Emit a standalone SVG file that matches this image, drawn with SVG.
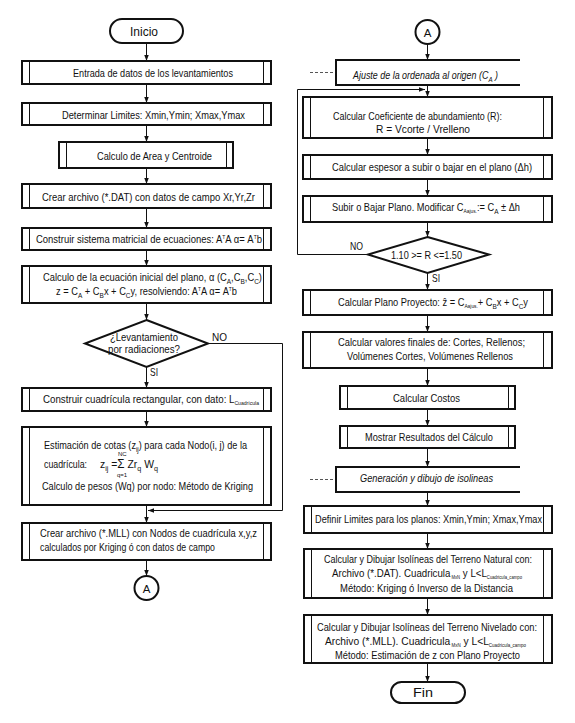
<svg xmlns="http://www.w3.org/2000/svg" width="575" height="723" viewBox="0 0 575 723">
<style>
.box{fill:#fff;stroke:#111;stroke-width:2}
.in{stroke:#111;stroke-width:1;fill:none}
.ann{fill:none;stroke:#111;stroke-width:2}
.dash{stroke:#555;stroke-width:1;stroke-dasharray:3,2;fill:none}
.c{stroke:#111;stroke-width:1;fill:none}
text{font-family:"Liberation Sans",Arial,sans-serif;font-size:11.5px;fill:#111}
.lg{font-size:13px}
.it{font-style:italic}
.sub{font-size:8px;baseline-shift:-2.5px}
.sm{font-size:6px;baseline-shift:-2px}
.tiny{font-size:5px;baseline-shift:-2px}
.sup{font-size:6px;baseline-shift:4px}
.lim{font-size:6px}
</style>
<defs>
<marker id="ah" viewBox="0 0 8 8" refX="8" refY="4" markerWidth="6" markerHeight="6" orient="auto" markerUnits="userSpaceOnUse">
<path d="M0,1 L8,4 L0,7 z" fill="#111"/>
</marker>
</defs>
<rect width="575" height="723" fill="#fff"/>

<g id="connectors">
<path class="c" marker-end="url(#ah)" d="M146.5,43 V61"/>
<path class="c" marker-end="url(#ah)" d="M146.5,84 V103"/>
<path class="c" marker-end="url(#ah)" d="M146.5,125 V142"/>
<path class="c" marker-end="url(#ah)" d="M146.5,168 V184"/>
<path class="c" marker-end="url(#ah)" d="M146.5,208 V228"/>
<path class="c" marker-end="url(#ah)" d="M146.5,250 V266"/>
<path class="c" marker-end="url(#ah)" d="M146.5,303 V320"/>
<path class="c" marker-end="url(#ah)" d="M146.5,367 V388"/>
<path class="c" marker-end="url(#ah)" d="M146.5,411 V427"/>
<path class="c" marker-end="url(#ah)" d="M146.5,505 V523"/>
<path class="c" marker-end="url(#ah)" d="M146.5,560 V576"/>
<path class="c" marker-end="url(#ah)" d="M208,343.5 H282.5 V510.5 H148"/>
<path class="c" marker-end="url(#ah)" d="M427.5,44 V60"/>
<path class="c" marker-end="url(#ah)" d="M427.5,85 V97"/>
<path class="c" marker-end="url(#ah)" d="M368,254.5 H297.5 V89.5 H425"/>
<path class="c" marker-end="url(#ah)" d="M427.5,138 V155"/>
<path class="c" marker-end="url(#ah)" d="M427.5,179 V196"/>
<path class="c" marker-end="url(#ah)" d="M427.5,222 V237"/>
<path class="c" marker-end="url(#ah)" d="M427.5,273 V290"/>
<path class="c" marker-end="url(#ah)" d="M427.5,315 V332"/>
<path class="c" marker-end="url(#ah)" d="M427.5,368 V386"/>
<path class="c" marker-end="url(#ah)" d="M427.5,409 V426"/>
<path class="c" marker-end="url(#ah)" d="M427.5,448 V467"/>
<path class="c" marker-end="url(#ah)" d="M427.5,492 V506"/>
<path class="c" marker-end="url(#ah)" d="M427.5,533 V549"/>
<path class="c" marker-end="url(#ah)" d="M427.5,598 V615"/>
<path class="c" marker-end="url(#ah)" d="M427.5,663 V682"/>
<path class="dash" d="M310,72.5 H336"/>
<path class="dash" d="M310,479.5 H336"/>
<text x="212" y="341" textLength="15" lengthAdjust="spacingAndGlyphs">NO</text>
<text x="150" y="376" textLength="8" lengthAdjust="spacingAndGlyphs">SI</text>
<text x="350" y="250" textLength="13" lengthAdjust="spacingAndGlyphs">NO</text>
<text x="432" y="282" textLength="8" lengthAdjust="spacingAndGlyphs">SI</text>
</g>

<g id="inicio">
<rect class="box" x="110" y="19" width="73" height="24" rx="12"/>
<text class="lg" x="130" y="36" textLength="28" lengthAdjust="spacingAndGlyphs">Inicio</text>
</g>

<g id="entrada">
<rect class="box" x="22" y="61" width="249" height="23"/>
<path class="in" d="M29.5,61 V84 M263.5,61 V84"/>
<text x="73" y="77" textLength="160" lengthAdjust="spacingAndGlyphs">Entrada de datos de los levantamientos</text>
</g>

<g id="limites">
<rect class="box" x="22" y="103" width="249" height="22"/>
<path class="in" d="M29.5,103 V125 M263.5,103 V125"/>
<text x="62" y="119" textLength="183" lengthAdjust="spacingAndGlyphs">Determinar Limites: Xmin,Ymin; Xmax,Ymax</text>
</g>

<g id="area">
<rect class="box" x="59" y="142" width="174" height="26"/>
<path class="in" d="M66.5,142 V168 M226.5,142 V168"/>
<text x="97" y="160" textLength="115" lengthAdjust="spacingAndGlyphs">Calculo de Area y Centroide</text>
</g>

<g id="dat">
<rect class="box" x="22" y="184" width="249" height="24"/>
<path class="in" d="M29.5,184 V208 M263.5,184 V208"/>
<text x="42" y="201" textLength="213" lengthAdjust="spacingAndGlyphs">Crear archivo (*.DAT) con datos de campo Xr,Yr,Zr</text>
</g>

<g id="sistema">
<rect class="box" x="22" y="228" width="249" height="22"/>
<path class="in" d="M29.5,228 V250 M263.5,228 V250"/>
<text x="36" y="243" textLength="226" lengthAdjust="spacingAndGlyphs">Construir sistema matricial de ecuaciones: A<tspan class="sup">T</tspan>A α= A<tspan class="sup">T</tspan>b</text>
</g>

<g id="ecuacion">
<rect class="box" x="22" y="266" width="249" height="37"/>
<path class="in" d="M29.5,266 V303 M263.5,266 V303"/>
<text x="43" y="281" textLength="219" lengthAdjust="spacingAndGlyphs">Calculo de la ecuación inicial del plano, α (C<tspan class="sub">A</tspan>,C<tspan class="sub">B</tspan>,C<tspan class="sub">C</tspan>)</text>
<text x="56" y="295" textLength="181" lengthAdjust="spacingAndGlyphs">z = C<tspan class="sub">A</tspan> + C<tspan class="sub">B</tspan>x + C<tspan class="sub">C</tspan>y, resolviendo: A<tspan class="sup">T</tspan>A α= A<tspan class="sup">T</tspan>b</text>
</g>

<g id="radiaciones">
<polygon class="box" points="146.5,320 208,343.5 146.5,367 85,343.5"/>
<text x="110" y="341" textLength="68" lengthAdjust="spacingAndGlyphs">¿Levantamiento</text>
<text x="108" y="353" textLength="72" lengthAdjust="spacingAndGlyphs">por radiaciones?</text>
</g>

<g id="cuadricula">
<rect class="box" x="22" y="388" width="249" height="23"/>
<path class="in" d="M29.5,388 V411 M263.5,388 V411"/>
<text x="43" y="403" textLength="216" lengthAdjust="spacingAndGlyphs">Construir cuadrícula rectangular, con dato:  L<tspan class="sm">Cuadrícula</tspan></text>
</g>

<g id="estimacion">
<rect class="box" x="22" y="427" width="249" height="78"/>
<path class="in" d="M29.5,427 V505 M263.5,427 V505"/>
<text x="44" y="449" textLength="203" lengthAdjust="spacingAndGlyphs">Estimación de cotas (z<tspan class="sub">ij</tspan>) para cada Nodo(i, j) de la</text>
<text x="44" y="468" textLength="43" lengthAdjust="spacingAndGlyphs">cuadrícula:</text>
<text x="100" y="468" textLength="58" lengthAdjust="spacingAndGlyphs">z<tspan class="sub">ij</tspan> =<tspan font-size="13px">Σ</tspan> Zr<tspan class="sub">q</tspan> W<tspan class="sub">q</tspan></text>
<text class="lim" x="118" y="456">NC</text>
<text class="lim" x="117" y="477">q=1</text>
<text x="42" y="490" textLength="211" lengthAdjust="spacingAndGlyphs">Calculo de pesos (Wq) por nodo: Método de Kriging</text>
</g>

<g id="mll">
<rect class="box" x="22" y="523" width="249" height="37"/>
<path class="in" d="M29.5,523 V560 M263.5,523 V560"/>
<text x="40" y="537" textLength="217" lengthAdjust="spacingAndGlyphs">Crear archivo (*.MLL) con Nodos  de cuadrícula x,y,z</text>
<text x="40" y="551" textLength="175" lengthAdjust="spacingAndGlyphs">calculados por Kriging ó con datos de campo</text>
</g>

<g id="conectorA1">
<circle class="box" cx="146.5" cy="588" r="12"/>
<text x="146.5" y="593" text-anchor="middle">A</text>
</g>

<g id="conectorA2">
<circle class="box" cx="427.5" cy="32" r="12"/>
<text x="427.5" y="37" text-anchor="middle">A</text>
</g>

<g id="ajuste">
<path class="ann" d="M520,60 H336 V85 H520"/>
<text class="it" x="353" y="79" textLength="145" lengthAdjust="spacingAndGlyphs">Ajuste de la ordenada al origen (C<tspan class="sub">A</tspan> )</text>
</g>

<g id="coeficiente">
<rect class="box" x="303" y="97" width="249" height="41"/>
<path class="in" d="M310.5,97 V138 M543.5,97 V138"/>
<text x="333" y="120" textLength="169" lengthAdjust="spacingAndGlyphs">Calcular Coeficiente de abundamiento (R):</text>
<text x="376" y="133" textLength="94" lengthAdjust="spacingAndGlyphs">R = Vcorte / Vrelleno</text>
</g>

<g id="espesor">
<rect class="box" x="303" y="155" width="249" height="24"/>
<path class="in" d="M310.5,155 V179 M543.5,155 V179"/>
<text x="332" y="171" textLength="200" lengthAdjust="spacingAndGlyphs">Calcular espesor a subir o bajar en el plano (Δh)</text>
</g>

<g id="subir">
<rect class="box" x="303" y="196" width="249" height="26"/>
<path class="in" d="M310.5,196 V222 M543.5,196 V222"/>
<text x="332" y="211" textLength="188" lengthAdjust="spacingAndGlyphs">Subir o Bajar Plano. Modificar C<tspan class="sm">Aajus.</tspan>:= C<tspan class="sub">A</tspan>  ± Δh</text>
</g>

<g id="rango">
<polygon class="box" points="427.5,237 489,254.5 427.5,273 368,254.5"/>
<text x="391" y="259" textLength="71" lengthAdjust="spacingAndGlyphs">1.10 &gt;= R &lt;=1.50</text>
</g>

<g id="proyecto">
<rect class="box" x="303" y="290" width="249" height="25"/>
<path class="in" d="M310.5,290 V315 M543.5,290 V315"/>
<text x="338" y="306" textLength="190" lengthAdjust="spacingAndGlyphs">Calcular Plano Proyecto: ẑ = C<tspan class="sm">Aajus.</tspan>+ C<tspan class="sub">B</tspan>x + C<tspan class="sub">C</tspan>y</text>
</g>

<g id="finales">
<rect class="box" x="303" y="332" width="249" height="36"/>
<path class="in" d="M310.5,332 V368 M543.5,332 V368"/>
<text x="338" y="346" textLength="187" lengthAdjust="spacingAndGlyphs">Calcular valores finales de: Cortes, Rellenos;</text>
<text x="347" y="360" textLength="166" lengthAdjust="spacingAndGlyphs">Volúmenes Cortes, Volúmenes Rellenos</text>
</g>

<g id="costos">
<rect class="box" x="340" y="386" width="175" height="23"/>
<path class="in" d="M347.5,386 V409 M508.5,386 V409"/>
<text x="393" y="402" textLength="67" lengthAdjust="spacingAndGlyphs">Calcular Costos</text>
</g>

<g id="resultados">
<rect class="box" x="340" y="426" width="175" height="22"/>
<path class="in" d="M347.5,426 V448 M508.5,426 V448"/>
<text x="365" y="441" textLength="128" lengthAdjust="spacingAndGlyphs">Mostrar Resultados del Cálculo</text>
</g>

<g id="generacion">
<path class="ann" d="M520,467 H336 V492 H520"/>
<text class="it" x="360" y="482" textLength="133" lengthAdjust="spacingAndGlyphs">Generación y dibujo de isolineas</text>
</g>

<g id="limites-planos">
<rect class="box" x="304" y="506" width="248" height="27"/>
<path class="in" d="M311.5,506 V533 M543.5,506 V533"/>
<text x="315" y="523" textLength="227" lengthAdjust="spacingAndGlyphs">Definir Limites para los planos: Xmin,Ymin; Xmax,Ymax</text>
</g>

<g id="natural">
<rect class="box" x="304" y="549" width="248" height="49"/>
<path class="in" d="M311.5,549 V598 M543.5,549 V598"/>
<text x="324" y="563" textLength="208" lengthAdjust="spacingAndGlyphs">Calcular y Dibujar Isolíneas del Terreno Natural con:</text>
<text x="332" y="577" textLength="190" lengthAdjust="spacingAndGlyphs">Archivo (*.DAT). Cuadricula<tspan class="tiny"> MxN</tspan>  y L&lt;L<tspan class="tiny">Cuadricula_campo</tspan></text>
<text x="340" y="592" textLength="173" lengthAdjust="spacingAndGlyphs">Método: Kriging ó Inverso de la Distancia</text>
</g>

<g id="nivelado">
<rect class="box" x="304" y="615" width="248" height="48"/>
<path class="in" d="M311.5,615 V663 M543.5,615 V663"/>
<text x="317" y="631" textLength="220" lengthAdjust="spacingAndGlyphs">Calcular y Dibujar Isolíneas del Terreno Nivelado con:</text>
<text x="325" y="645" textLength="201" lengthAdjust="spacingAndGlyphs">Archivo (*.MLL). Cuadricula<tspan class="tiny"> MxN</tspan>  y L&lt;L<tspan class="tiny">Cuadricula_campo</tspan></text>
<text x="335" y="659" textLength="185" lengthAdjust="spacingAndGlyphs">Método: Estimación de z con Plano Proyecto</text>
</g>

<g id="fin">
<rect class="box" x="391" y="682" width="74" height="21" rx="10.5"/>
<text class="lg" x="413" y="697" textLength="20" lengthAdjust="spacingAndGlyphs">Fin</text>
</g>
</svg>
